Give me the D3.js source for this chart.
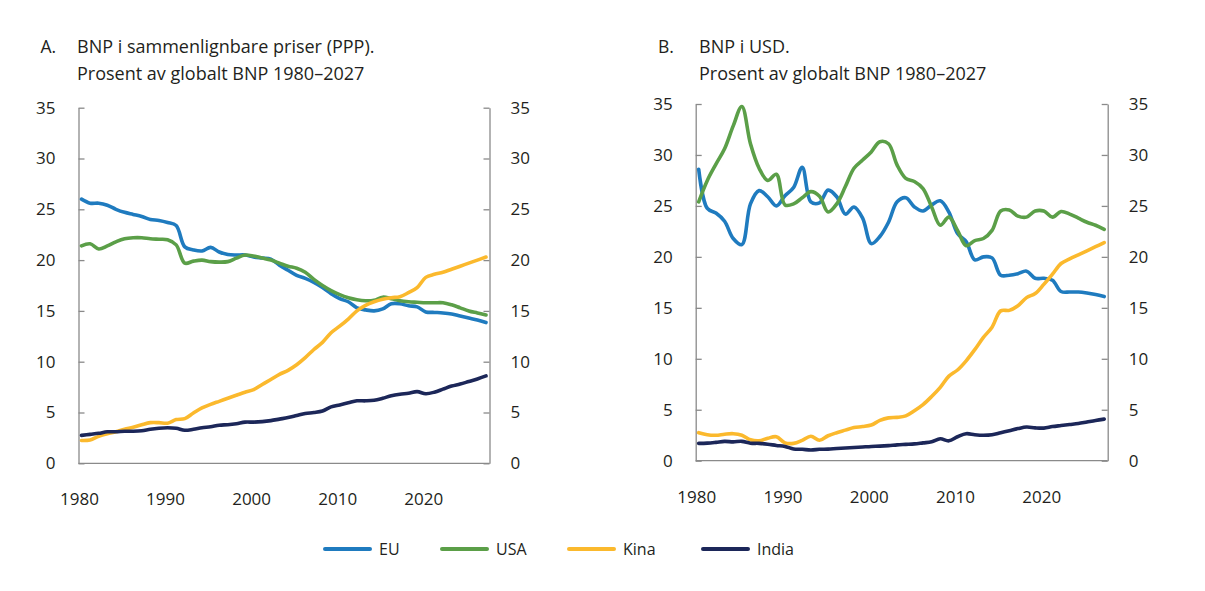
<!DOCTYPE html>
<html>
<head>
<meta charset="utf-8">
<script src="https://cdn.jsdelivr.net/npm/d3@7"></script>
<style>
  body { margin: 0; background: #fff; }
  svg text { font-family: "Open Sans", "Noto Sans", sans-serif; fill: #231f20; }
</style>
</head>
<body>
<div id="chart"></div>
<script>
// Data: share of global GDP (%), 1980-2027
const years = d3.range(1980, 2028);
const yTicks = [0, 5, 10, 15, 20, 25, 30, 35];
const xTicks = [1980, 1990, 2000, 2010, 2020];

const seriesNames = ["EU", "USA", "Kina", "India"];
const seriesColors = ["#1f7bbf", "#5b9f48", "#fbb92d", "#1c2759"];

// Panel A: PPP
const euPPP = [26.0, 25.6, 25.6, 25.4, 25.0, 24.7, 24.5, 24.3, 24.0, 23.9, 23.7, 23.4, 21.3, 21.0, 20.9, 21.25, 20.8, 20.55, 20.5, 20.5,
  20.3, 20.2, 20.1, 19.5, 19.0, 18.5, 18.2, 17.8, 17.3, 16.7, 16.2, 15.9, 15.3, 15.1, 15.0, 15.2, 15.7, 15.7, 15.5, 15.4,
  14.9, 14.85, 14.8, 14.7, 14.5, 14.3, 14.1, 13.85];
const usaPPP = [21.4, 21.6, 21.1, 21.4, 21.8, 22.1, 22.2, 22.2, 22.1, 22.05, 22.0, 21.5, 19.7, 19.9, 20.0, 19.85, 19.8, 19.85, 20.2, 20.5,
  20.4, 20.2, 20.0, 19.7, 19.4, 19.2, 18.8, 18.1, 17.5, 17.0, 16.6, 16.3, 16.1, 16.0, 16.05, 16.35, 16.2, 16.0, 15.9, 15.85,
  15.8, 15.8, 15.8, 15.6, 15.3, 15.0, 14.8, 14.6];
const kinaPPP = [2.25, 2.3, 2.65, 2.9, 3.1, 3.35, 3.55, 3.8, 4.0, 4.0, 3.95, 4.3, 4.4, 4.95, 5.45, 5.8, 6.1, 6.4, 6.7, 7.0,
  7.25, 7.75, 8.25, 8.75, 9.15, 9.7, 10.4, 11.2, 11.9, 12.85, 13.5, 14.2, 15.0, 15.55, 15.9, 16.15, 16.3, 16.4, 16.8, 17.3,
  18.3, 18.6, 18.8, 19.1, 19.4, 19.7, 20.0, 20.3];
const indiaPPP = [2.75, 2.85, 2.95, 3.1, 3.1, 3.15, 3.15, 3.2, 3.35, 3.45, 3.5, 3.45, 3.25, 3.35, 3.5, 3.6, 3.75, 3.8, 3.9, 4.05,
  4.05, 4.1, 4.2, 4.35, 4.5, 4.7, 4.9, 5.0, 5.15, 5.55, 5.75, 5.95, 6.15, 6.15, 6.2, 6.4, 6.65, 6.8, 6.9, 7.05,
  6.85, 7.0, 7.3, 7.6, 7.8, 8.05, 8.3, 8.6];

// Panel B: USD
const euUSD = [28.6, 24.75, 24.3, 23.5, 21.8, 21.2, 25.2, 26.5, 25.9, 25.0, 26.0, 26.8, 28.8, 25.4, 25.3, 26.55, 25.9, 24.2, 24.9, 23.8,
  21.3, 22.0, 23.4, 25.4, 25.8, 24.9, 24.5, 25.1, 25.5, 24.4, 22.3, 21.5, 19.7, 20.0, 19.9, 18.2, 18.2, 18.35, 18.6, 17.9,
  17.9, 17.7, 16.6, 16.55, 16.55, 16.45, 16.3, 16.1];
const usaUSD = [25.4, 27.5, 29.1, 30.6, 32.85, 34.75, 31.1, 28.7, 27.5, 28.1, 25.1, 25.2, 25.8, 26.4, 25.95, 24.4, 25.2, 26.9, 28.7, 29.5,
  30.3, 31.3, 31.1, 29.0, 27.7, 27.4, 26.7, 24.9, 23.1, 23.9, 22.6, 21.1, 21.6, 21.8, 22.6, 24.5, 24.6, 24.0, 23.9, 24.5,
  24.5, 23.9, 24.45, 24.2, 23.8, 23.4, 23.1, 22.7];
const kinaUSD = [2.75, 2.55, 2.5, 2.6, 2.65, 2.5, 2.05, 1.95, 2.2, 2.35, 1.75, 1.7, 2.0, 2.4, 2.0, 2.45, 2.75, 3.0, 3.25, 3.35,
  3.5, 3.95, 4.2, 4.25, 4.4, 4.9, 5.5, 6.3, 7.2, 8.3, 8.9, 9.8, 10.9, 12.1, 13.1, 14.7, 14.75, 15.2, 16.0, 16.4,
  17.3, 18.3, 19.35, 19.8, 20.2, 20.6, 21.0, 21.4];
const indiaUSD = [1.7, 1.72, 1.8, 1.9, 1.85, 1.9, 1.72, 1.7, 1.62, 1.5, 1.4, 1.15, 1.12, 1.05, 1.12, 1.14, 1.2, 1.25, 1.3, 1.35,
  1.4, 1.43, 1.48, 1.55, 1.6, 1.65, 1.75, 1.85, 2.15, 1.95, 2.35, 2.65, 2.55, 2.5, 2.55, 2.75, 2.95, 3.15, 3.3, 3.22,
  3.2, 3.35, 3.45, 3.55, 3.65, 3.8, 3.95, 4.08];

const panels = [
  { letter: "A.", title: "BNP i sammenlignbare priser (PPP).", series: [euPPP, usaPPP, kinaPPP, indiaPPP],
    left: 78.5, right: 489.5, top: 107.7, bottom: 463.3, titleX: 40.5, textX: 77 },
  { letter: "B.", title: "BNP i USD.", series: [euUSD, usaUSD, kinaUSD, indiaUSD],
    left: 695.7, right: 1107.7, top: 104, bottom: 460.7, titleX: 658, textX: 699 }
];
const subtitle = "Prosent av globalt BNP 1980\u20132027";

const W = 1205, H = 591;
const svg = d3.select("#chart").append("svg")
  .attr("width", W).attr("height", H)
  .attr("viewBox", `0 0 ${W} ${H}`);

const axisColor = "#8a8a8a";

panels.forEach(p => {
  const g = svg.append("g");

  const x = d3.scaleLinear().domain([1980, 2027]).range([p.left + 3, p.right - 3.5]);
  const y = d3.scaleLinear().domain([0, 35]).range([p.bottom, p.top]);

  // titles
  g.append("text").attr("x", p.titleX).attr("y", 53).style("font-size", "17.5px").text(p.letter);
  g.append("text").attr("x", p.textX).attr("y", 53).style("font-size", "18px").text(p.title);
  g.append("text").attr("x", p.textX).attr("y", 80).style("font-size", "18px").text(subtitle);

  // left and right y axes, ticks pointing inward
  const leftAxis = g.append("g")
    .attr("transform", `translate(${p.left},0)`)
    .call(d3.axisRight(y).tickValues(yTicks).tickSize(6).tickPadding(-29).tickSizeOuter(0));
  leftAxis.selectAll(".tick text").attr("text-anchor", "end");

  const rightAxis = g.append("g")
    .attr("transform", `translate(${p.right},0)`)
    .call(d3.axisLeft(y).tickValues(yTicks).tickSize(6).tickPadding(-27).tickSizeOuter(0));
  rightAxis.selectAll(".tick text").attr("text-anchor", "start");

  [leftAxis, rightAxis].forEach(a => {
    a.select(".domain").attr("stroke", axisColor).attr("stroke-width", 1.3);
    a.selectAll(".tick line").attr("stroke", axisColor).attr("stroke-width", 1.3);
    a.selectAll(".tick text").style("font-size", "17px").style("font-family", "\"Open Sans\", sans-serif").attr("fill", "#231f20");
  });

  // bottom baseline
  g.append("line")
    .attr("x1", p.left).attr("x2", p.right)
    .attr("y1", y(0)).attr("y2", y(0))
    .attr("stroke", axisColor).attr("stroke-width", 1.3);

  // year labels
  g.selectAll(".year").data(xTicks).enter().append("text")
    .attr("class", "year")
    .attr("x", d => x(d) - 2)
    .attr("y", p.bottom + 42)
    .attr("text-anchor", "middle")
    .style("font-size", "17px")
    .text(d => d);

  const line = d3.line()
    .x((d, i) => x(years[i]))
    .y(d => y(d))
    .curve(d3.curveCatmullRom.alpha(0.5));

  p.series.forEach((values, i) => {
    g.append("path")
      .datum(values)
      .attr("fill", "none")
      .attr("stroke", seriesColors[i])
      .attr("stroke-width", 3.6)
      .attr("stroke-linejoin", "round")
      .attr("stroke-linecap", "round")
      .attr("d", line);
  });
});

// Legend
const legendX = [325, 442, 569, 703];
const legend = svg.append("g");
seriesNames.forEach((name, i) => {
  const row = legend.append("g").attr("transform", `translate(${legendX[i]}, 549)`);
  row.append("line").attr("x1", 0).attr("x2", 45).attr("y1", 0).attr("y2", 0)
    .attr("stroke", seriesColors[i]).attr("stroke-width", 4).attr("stroke-linecap", "round");
  row.append("text").attr("x", 54).attr("y", 6).style("font-size", "16px").text(name);
});
</script>
</body>
</html>
